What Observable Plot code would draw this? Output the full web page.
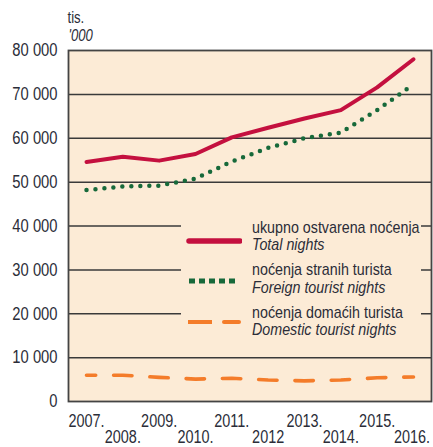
<!DOCTYPE html>
<html>
<head>
<meta charset="utf-8">
<script src="https://cdn.jsdelivr.net/npm/d3@7"></script>
<script src="https://cdn.jsdelivr.net/npm/@observablehq/plot@0.6"></script>
<style>
  body { margin: 0; background: #fff; }
  #wrap { position: relative; width: 433px; height: 447px; font-family: "Liberation Sans", Arial, sans-serif; color: #2b2d38; }
  #legend { position: absolute; left: 181px; top: 214px; width: 240px; height: 128px; background: #fcebd6; }
  .item { position: absolute; left: 0; width: 240px; height: 40px; }
  .item svg { position: absolute; left: 5px; }
  .t1, .t2 { position: absolute; left: 71px; font-size: 17px; white-space: nowrap; line-height: 0.94; transform: scaleX(0.84); transform-origin: 0 0; }
  .t2 { font-style: italic; }
</style>
</head>
<body>
<div id="wrap"></div>
<script>
const years = [2007, 2008, 2009, 2010, 2011, 2012, 2013, 2014, 2015, 2016];
const yearLabels = ["2007.", "2008.", "2009.", "2010.", "2011.", "2012", "2013.", "2014.", "2015.", "2016."];
const totalNights = [54600, 55800, 54900, 56400, 60200, 62400, 64500, 66400, 71600, 78000];
const foreignNights = [48200, 49000, 49200, 50800, 54700, 57800, 60000, 61300, 66400, 72300];
const domesticNights = [6000, 6000, 5500, 5100, 5300, 4900, 4700, 4900, 5400, 5600];
const yTicks = [0, 10000, 20000, 30000, 40000, 50000, 60000, 70000, 80000];
const gridValues = [10000, 20000, 30000, 40000, 50000, 60000, 70000];
const seriesNames = [
  ["ukupno ostvarena noćenja", "Total nights"],
  ["noćenja stranih turista", "Foreign tourist nights"],
  ["noćenja domaćih turista", "Domestic tourist nights"]
];
const unitLabels = ["tis.", "'000"];

const rows = (vals) => years.map((y, i) => ({year: y, value: vals[i]}));
const total = rows(totalNights);
const foreign = rows(foreignNights);
const domestic = rows(domesticNights);
const labelRows = years.map((y, i) => ({year: y, label: yearLabels[i], row: i % 2}));
const lastYear = years[years.length - 1];

const font = '"Liberation Sans", Arial, sans-serif';
const textColor = "#2b2d38";

const chart = Plot.plot({
  width: 433,
  height: 447,
  marginLeft: 68,
  marginRight: 2,
  marginTop: 50,
  marginBottom: 46,
  style: {fontFamily: font, fontSize: "18px", color: textColor, background: "transparent", overflow: "visible"},
  x: {domain: [2007, 2016], insetLeft: 18, insetRight: 18, axis: null},
  y: {domain: [0, 80000], axis: null},
  marks: [
    Plot.frame({fill: "#fcebd6"}),
    Plot.ruleY(gridValues, {stroke: "#3a3a3a", strokeWidth: 1.5}),
    Plot.frame({stroke: "#444", strokeWidth: 1.8}),
    Plot.axisY(yTicks, {
      label: null, tickSize: 0, tickPadding: 11, fontSize: 18, fill: textColor,
      tickFormat: d => d === 0 ? "0" : d3.format(",")(d).replace(/,/g, " ")
    }),
    Plot.text(labelRows.filter(d => d.row === 0), {
      x: "year", text: "label", frameAnchor: "bottom", dy: 25.5, lineAnchor: "bottom",
      fontSize: 17.6, fill: textColor
    }),
    Plot.text(labelRows.filter(d => d.row === 1 && d.year !== lastYear), {
      x: "year", text: "label", frameAnchor: "bottom", dy: 41.5, lineAnchor: "bottom",
      fontSize: 17.6, fill: textColor
    }),
    Plot.text(labelRows.filter(d => d.year === lastYear), {
      x: "year", text: "label", frameAnchor: "bottom", dy: 41.5, dx: 16.5, lineAnchor: "bottom",
      textAnchor: "end", fontSize: 17.6, fill: textColor
    }),
    Plot.text([unitLabels[0]], {frameAnchor: "top-left", dx: -1, dy: -28, textAnchor: "start", fontSize: 16, fill: textColor, lineAnchor: "bottom"}),
    Plot.text([unitLabels[1]], {frameAnchor: "top-left", dx: 0, dy: -10, textAnchor: "start", fontSize: 16, fontStyle: "italic", fill: textColor, lineAnchor: "bottom"}),
    Plot.line(domestic, {x: "year", y: "value", stroke: "#f47c2a", strokeWidth: 3.6, strokeDasharray: "18.4 17.9", strokeDashoffset: 9.2, strokeLinecap: "round"}),
    Plot.line(foreign, {x: "year", y: "value", stroke: "#17693a", strokeWidth: 4.5, strokeDasharray: "0 9", strokeLinecap: "round"}),
    Plot.line(total, {x: "year", y: "value", stroke: "#c4103f", strokeWidth: 4, strokeLinecap: "round", strokeLinejoin: "round"})
  ]
});

const wrap = document.getElementById("wrap");
wrap.appendChild(chart);

// condense SVG texts horizontally (narrow face as in the original)
chart.querySelectorAll("text").forEach(t => {
  const w = t.getComputedTextLength();
  if (w > 0) {
    t.setAttribute("textLength", (w * 0.82).toFixed(2));
    t.setAttribute("lengthAdjust", "spacingAndGlyphs");
  }
});

const legend = document.createElement("div");
legend.id = "legend";
const symbols = [
  '<svg width="56" height="12"><line x1="3" y1="6" x2="54" y2="6" stroke="#c4103f" stroke-width="5.5" stroke-linecap="round"/></svg>',
  '<svg width="56" height="12"><line x1="3" y1="6" x2="50" y2="6" stroke="#17693a" stroke-width="5" stroke-dasharray="6 4" stroke-linecap="butt"/></svg>',
  '<svg width="56" height="12"><line x1="2" y1="6" x2="26" y2="6" stroke="#f47c2a" stroke-width="4"/><line x1="38" y1="6" x2="53" y2="6" stroke="#f47c2a" stroke-width="4" stroke-linecap="round"/></svg>'
];
const itemTops = [6, 48.5, 91];
const symTops = [15, 12.5, 10.7];
seriesNames.forEach((names, i) => {
  const it = document.createElement("div");
  it.className = "item";
  it.style.top = itemTops[i] + "px";
  it.innerHTML = symbols[i].replace("<svg", `<svg style="top:${symTops[i]}px"`) +
    `<div class="t1" style="top:-0.5px">${names[0]}</div><div class="t2" style="top:17px">${names[1]}</div>`;
  legend.appendChild(it);
});
wrap.appendChild(legend);
</script>
</body>
</html>
